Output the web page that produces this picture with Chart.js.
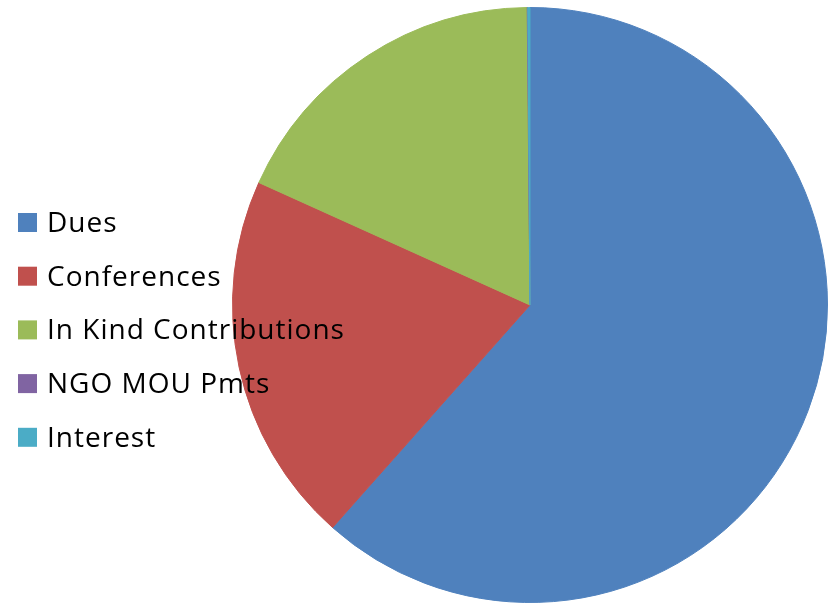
<!DOCTYPE html>
<html>
<head>
<meta charset="utf-8">
<script src="https://cdn.jsdelivr.net/npm/chart.js@4"></script>
<style>
  html, body { margin: 0; padding: 0; background: #fff; }
  #wrap { width: 830px; height: 604px; position: relative; }
</style>
</head>
<body>
<div id="wrap"><canvas id="pieChart" width="830" height="604"></canvas></div>
<script>
// Chart data (percent of total)
const categories = ['Dues', 'Conferences', 'In Kind Contributions', 'NGO MOU Pmts', 'Interest'];
const shares = [61.55, 20.2, 18.1, 0.03, 0.12];
const sliceColors = ['#4F81BD', '#C0504D', '#9BBB59', '#8064A2', '#4BACC6'];

// Legend drawn on top of the pie, like the original
const sideLegend = {
    id: 'sideLegend',
    afterDraw(chart) {
        const ctx = chart.ctx;
        const labels = chart.data.labels;
        const colors = chart.data.datasets[0].backgroundColor;
        ctx.save();
        ctx.font = '28px "Open Sans", sans-serif';
        ctx.letterSpacing = '1px';
        ctx.textBaseline = 'middle';
        ctx.textAlign = 'left';
        labels.forEach((label, i) => {
            const y = 223 + i * 53.7;
            ctx.fillStyle = colors[i];
            ctx.fillRect(18, y - 10, 19, 19);
            ctx.fillStyle = '#000';
            ctx.fillText(label, 47, y + 1);
        });
        ctx.restore();
    }
};

document.addEventListener('DOMContentLoaded', function() {
    const ctx = document.getElementById('pieChart').getContext('2d');
    new Chart(ctx, {
        type: 'pie',
        data: {
            labels: categories,
            datasets: [{
                data: shares,
                backgroundColor: sliceColors,
                borderColor: sliceColors,
                borderWidth: 1
            }]
        },
        options: {
            responsive: false,
            animation: false,
            layout: {
                padding: { left: 232, right: 2, top: 7, bottom: 1 }
            },
            plugins: {
                legend: { display: false },
                tooltip: { enabled: false }
            }
        },
        plugins: [sideLegend]
    });
});
</script>
</body>
</html>
